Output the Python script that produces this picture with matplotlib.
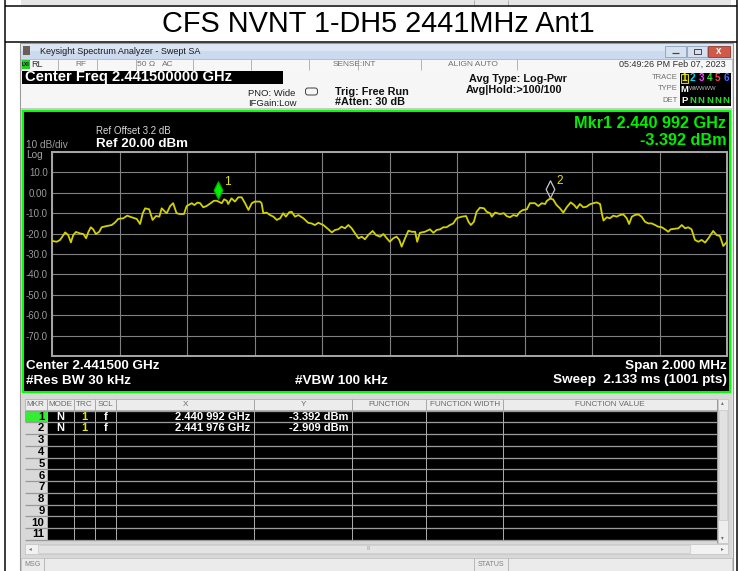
import numpy as np
import matplotlib
matplotlib.use("Agg")
import matplotlib.pyplot as plt
from matplotlib.patches import Rectangle
from matplotlib.path import Path
from matplotlib.markers import MarkerStyle
from matplotlib.transforms import ScaledTranslation

plt.rcParams['font.family'] = ['Liberation Sans', 'DejaVu Sans']

# ---------------- data ----------------
title = "CFS NVNT 1-DH5 2441MHz Ant1"
start_mhz = 2440.5
span_mhz = 2.0
offset_mhz = [0.000, 0.014, 0.024, 0.039, 0.048, 0.056, 0.063, 0.071, 0.083, 0.093,
              0.101, 0.108, 0.115, 0.122, 0.130, 0.140, 0.147, 0.162, 0.177, 0.187,
              0.196, 0.211, 0.223, 0.236, 0.251, 0.261, 0.269, 0.276, 0.288, 0.298,
              0.308, 0.318, 0.325, 0.335, 0.340, 0.350, 0.359, 0.369, 0.379, 0.391,
              0.399, 0.414, 0.422, 0.431, 0.439, 0.448, 0.458, 0.470, 0.480, 0.488,
              0.503, 0.510, 0.518, 0.522, 0.532, 0.542, 0.552, 0.562, 0.572, 0.582,
              0.592, 0.601, 0.616, 0.621, 0.626, 0.636, 0.646, 0.656, 0.666, 0.676,
              0.685, 0.693, 0.703, 0.710, 0.720, 0.730, 0.745, 0.759, 0.769, 0.779,
              0.789, 0.804, 0.819, 0.829, 0.839, 0.848, 0.858, 0.868, 0.878, 0.888,
              0.898, 0.908, 0.918, 0.927, 0.937, 0.950, 0.960, 0.972, 0.982, 0.992,
              1.001, 1.011, 1.021, 1.029, 1.036, 1.046, 1.056, 1.066, 1.076, 1.082,
              1.090, 1.105, 1.120, 1.130, 1.140, 1.150, 1.159, 1.169, 1.179, 1.189,
              1.199, 1.214, 1.227, 1.234, 1.241, 1.250, 1.258, 1.268, 1.280, 1.288,
              1.298, 1.303, 1.313, 1.327, 1.339, 1.347, 1.357, 1.367, 1.377, 1.387,
              1.396, 1.407, 1.416, 1.431, 1.441, 1.451, 1.461, 1.466, 1.476, 1.485,
              1.495, 1.505, 1.515, 1.525, 1.537, 1.547, 1.555, 1.564, 1.574, 1.584,
              1.594, 1.604, 1.614, 1.624, 1.629, 1.634, 1.644, 1.653, 1.663, 1.673,
              1.683, 1.693, 1.703, 1.710, 1.718, 1.727, 1.737, 1.747, 1.757, 1.767,
              1.777, 1.787, 1.796, 1.807, 1.816, 1.826, 1.833, 1.843, 1.856, 1.866,
              1.876, 1.885, 1.895, 1.905, 1.915, 1.925, 1.935, 1.945, 1.959, 1.969,
              1.979, 1.989, 2.000]
level_dbm = [-23.6, -24.0, -23.1, -19.4, -20.7, -24.3, -20.7, -19.2, -19.9, -20.2,
             -22.3, -19.1, -16.9, -17.9, -20.2, -19.1, -16.9, -16.3, -15.8, -14.5,
             -12.8, -12.5, -11.2, -12.0, -12.8, -15.3, -10.0, -7.6, -8.1, -13.3,
             -11.4, -11.7, -7.6, -9.3, -10.0, -6.5, -5.1, -10.0, -10.4, -10.4,
             -6.5, -5.1, -6.0, -4.8, -5.1, -7.1, -6.5, -5.1, -3.9, -3.9,
             -5.1, -3.2, -3.9, -5.5, -2.7, -4.3, -2.2, -2.2, -5.1, -8.4,
             -5.1, -4.3, -4.3, -5.1, -10.0, -9.7, -10.9, -11.7, -13.3, -12.5,
             -10.0, -11.7, -9.5, -9.3, -11.7, -10.9, -12.5, -14.7, -15.0, -15.8,
             -14.7, -15.8, -17.9, -19.4, -18.2, -17.9, -16.6, -17.4, -15.8, -17.4,
             -19.9, -22.3, -21.5, -22.8, -20.7, -18.7, -20.7, -21.5, -20.2, -22.3,
             -24.0, -22.3, -21.5, -23.1, -26.4, -22.3, -18.6, -19.1, -19.1, -24.0,
             -19.6, -19.1, -17.9, -19.6, -18.2, -17.9, -16.9, -16.9, -15.8, -15.0,
             -12.5, -11.7, -11.4, -14.2, -15.8, -14.2, -9.3, -7.3, -7.6, -9.3,
             -10.0, -11.7, -9.7, -10.4, -10.0, -11.4, -12.0, -10.9, -11.4, -9.3,
             -8.4, -8.1, -5.1, -5.1, -6.5, -5.1, -5.5, -4.0, -2.8, -3.3,
             -6.0, -7.6, -9.7, -7.1, -4.7, -6.0, -7.6, -5.5, -7.1, -6.8,
             -5.6, -5.1, -4.7, -5.5, -10.0, -13.6, -12.0, -12.5, -11.2, -11.7,
             -10.9, -10.6, -12.5, -15.3, -11.7, -10.9, -10.6, -11.7, -14.2, -15.0,
             -15.0, -15.8, -16.6, -16.9, -17.9, -19.1, -17.9, -17.7, -17.4, -15.8,
             -17.4, -16.9, -17.9, -23.1, -24.0, -23.1, -24.4, -22.3, -18.7, -20.7,
             -21.2, -26.1, -24.0]
mkr_ids = ["1", "2"]
mkr_freq_mhz = [2440.992, 2441.976]
mkr_level_dbm = [-3.392, -2.909]
mkr_x_text = ["2.440 992 GHz", "2.441 976 GHz"]
mkr_y_text = ["-3.392 dBm", "-2.909 dBm"]
y_ticks = [-80, -70, -60, -50, -40, -30, -20, -10, 0, 10, 20]
y_tick_labels = ["", "-70.0", "-60.0", "-50.0", "-40.0", "-30.0", "-20.0", "-10.0", "0.00", "10.0", ""]

# ---------------- figure ----------------
W, H = 738, 571
fig = plt.figure(figsize=(W / 100, H / 100), dpi=100)
fig.patch.set_facecolor('white')
bg = fig.add_axes([0, 0, 1, 1])
bg.set_xlim(0, W)
bg.set_ylim(H, 0)
bg.axis('off')

PX = 0.72  # 1 px in points


def rect(x0, y0, x1, y1, fc, ec='none', lw=0, z=1):
    bg.add_patch(Rectangle((x0, y0), x1 - x0, y1 - y0, facecolor=fc, edgecolor=ec,
                           linewidth=lw, zorder=z))


def hline(y, x0, x1, c, lw=1, z=2):
    bg.plot([x0, x1], [y, y], color=c, lw=lw * PX, zorder=z, solid_capstyle='butt')


def vline(x, y0, y1, c, lw=1, z=2):
    bg.plot([x, x], [y0, y1], color=c, lw=lw * PX, zorder=z, solid_capstyle='butt')


def txt(x, y, s, size, color='black', ha='left', weight='normal', z=6):
    bg.text(x, y, s, fontsize=size, color=color, ha=ha, va='center',
            fontweight=weight, zorder=z)


# outer document table
rect(21, 0, 731, 5, '#e6e6e6')
vline(474, 0, 5, '#b0b0b0')
vline(508, 0, 5, '#b0b0b0')
hline(6, 5, 737, 'black', 1.5, z=3)
hline(42, 5, 737, 'black', 1.5, z=3)
vline(5, 0, H, 'black', 1.5, z=3)
vline(736.5, 0, H, 'black', 1.5, z=3)
txt(378.5, 24.5, title, 20.8, 'black', ha='center')

# window frame
rect(20, 43, 733, 571, '#e9e9e9', ec='#9a9a9a', lw=0.8)
# title bar
rect(21, 43.5, 732, 51, '#dbe6f4')
rect(21, 51, 732, 58.5, '#cbdaee')
rect(23, 46, 30, 55, '#6a5f55')
txt(40, 51, "Keysight Spectrum Analyzer - Swept SA", 6.5, '#1a1a1a')
rect(665, 45.5, 686, 56.5, '#d6e1ef', ec='#8aa0bc', lw=0.6, z=3)
hline(53, 672, 679, '#444444', 1.2, z=4)
rect(687, 45.5, 707, 56.5, '#d6e1ef', ec='#8aa0bc', lw=0.6, z=3)
rect(694, 48.5, 701, 54, 'none', ec='#444444', lw=0.7, z=4)
rect(708, 45.5, 730, 56.5, '#cf5a4a', ec='#8a3a30', lw=0.6, z=3)
txt(719, 51, "x", 7, 'white', ha='center', weight='bold')

# status row
rect(21, 58.5, 732, 70.5, '#f7f7f7', ec='#b5b5b5', lw=0.6)
rect(22, 60, 29.5, 69, '#22cc22')
txt(25.7, 64.5, "LXI", 3.5, 'black', ha='center', weight='bold')
for xs in [57.7, 96.7, 136, 193, 251, 309, 358, 420.7, 516.7]:
    vline(xs, 59, 70, '#b5b5b5', 1)
txt(31, 64.5, "RL", 6.5, '#303030')
txt(75, 64.5, "RF", 6, '#707070')
txt(137, 64.5, "50 Ω", 6, '#707070')
txt(162, 64.5, "AC", 6, '#707070')
txt(333, 64.5, "SENSE:INT", 6, '#707070')
txt(448, 64.5, "ALIGN AUTO", 6, '#707070')
txt(726, 64.5, "05:49:26 PM Feb 07, 2023", 6.5, '#303030', ha='right')

# settings area
rect(21, 70.5, 732, 108, '#f6f6f6')
rect(22, 71, 283, 83.5, 'black', z=2)
txt(25, 77.2, "Center Freq 2.441500000 GHz", 10.6, 'white', weight='bold')
txt(248, 93.5, "PNO: Wide", 6.8, '#202020')
txt(248, 103, "IFGain:Low", 6.8, '#202020')
bg.add_patch(matplotlib.patches.FancyBboxPatch((306, 88.5), 11, 6, boxstyle="round,pad=0.5,rounding_size=2.5",
                                               facecolor='none', edgecolor='#404040', linewidth=0.7, zorder=3))
txt(335, 92, "Trig: Free Run", 7.8, '#101010', weight='bold')
txt(335, 102, "#Atten: 30 dB", 7.8, '#101010', weight='bold')
txt(518, 78.5, "Avg Type: Log-Pwr", 7.8, '#101010', ha='center', weight='bold')
txt(514, 90, "Avg|Hold:>100/100", 7.8, '#101010', ha='center', weight='bold')
txt(678, 77.5, "TRACE", 5.5, '#707070', ha='right')
txt(678, 89, "TYPE", 5.5, '#707070', ha='right')
txt(678, 100.5, "DET", 5.5, '#707070', ha='right')
rect(679.5, 73, 730.5, 106, 'black', z=2)
rect(680.5, 73.5, 688, 82.5, '#1a1a00', ec='#e0e000', lw=0.7, z=3)
trace_cols = ['#e8e800', '#00d8ff', '#ff44ff', '#33dd33', '#ff4444', '#4a6cff']
for i, c in enumerate(trace_cols):
    txt(684.3 + i * 8.4, 78, str(i + 1), 7.2, c, ha='center', weight='bold')
txt(684.3, 89, "M", 6.8, 'white', ha='center', weight='bold')
txt(689, 89, "WWWWW", 4.2, '#bbbbbb', ha='left')
txt(684.3, 100.5, "P", 6.8, 'white', ha='center', weight='bold')
for i in range(5):
    txt(692.7 + i * 8.4, 100.5, "N", 6.8, '#22dd22', ha='center', weight='bold')

# analyzer screen
rect(21, 108, 732, 396, '#c9c9c9')
rect(22.5, 111, 729.5, 391.5, 'black', ec='#00ff00', lw=2.0 * PX, z=2)

txt(96, 131, "Ref Offset 3.2 dB", 7, '#d8d8d8')
txt(96, 143.7, "Ref 20.00 dBm", 9.6, 'white', weight='bold')
txt(26, 145.5, "10 dB/div", 7.2, '#a0a0a0')
txt(26, 154.5, "Log", 7.2, '#a0a0a0')
txt(726.5, 124, "Mkr1 2.440 992 GHz", 11.7, '#00ee00', ha='right', weight='bold')
txt(726.5, 140.5, mkr_y_text[0], 11.7, '#00ee00', ha='right', weight='bold')
txt(26, 366, "Center 2.441500 GHz", 9.7, 'white', weight='bold')
txt(26, 380.5, "#Res BW 30 kHz", 9.7, 'white', weight='bold')
txt(295, 380.5, "#VBW 100 kHz", 9.7, 'white', weight='bold')
txt(726.5, 366, "Span 2.000 MHz", 9.7, 'white', ha='right', weight='bold')
txt(726.5, 380.5, "Sweep  2.133 ms (1001 pts)", 9.7, 'white', ha='right', weight='bold')

# plot axes (graticule)
ax = fig.add_axes([52 / W, 1 - 356 / H, 675 / W, 204 / H])
ax.set_facecolor('black')
freq = [start_mhz + o for o in offset_mhz]
ax.plot(freq, level_dbm, color='#d2d200', lw=1.3, zorder=4)
ax.set_xlim(start_mhz, start_mhz + span_mhz)
ax.set_ylim(-80, 20)
ax.set_xticks(np.linspace(start_mhz, start_mhz + span_mhz, 11))
ax.set_xticklabels([])
ax.set_yticks(y_ticks)
ax.set_yticklabels(y_tick_labels)
ax.tick_params(length=0, labelsize=7, labelcolor='#9a9a9a', pad=3)
ax.grid(True, color='#808080', lw=0.8)
ax.set_axisbelow(True)
for sp in ax.spines.values():
    sp.set_color('#a8a8a8')
    sp.set_linewidth(1.4)

diamond = MarkerStyle(Path([(0, 1), (0.5, 0), (0, -1), (-0.5, 0), (0, 1)],
                           [Path.MOVETO, Path.LINETO, Path.LINETO, Path.LINETO, Path.CLOSEPOLY]))
lift = ax.transData + ScaledTranslation(0, 0.095, fig.dpi_scale_trans)
mfcs = ['#00ee00', 'none']
mecs = ['#00b000', '#c8c8c8']
for k in range(2):
    ax.plot([mkr_freq_mhz[k]], [mkr_level_dbm[k]], marker=diamond, markersize=12.5,
            mfc=mfcs[k], mec=mecs[k], mew=0.9, transform=lift, zorder=6, clip_on=False)
    ax.annotate(mkr_ids[k], (mkr_freq_mhz[k], mkr_level_dbm[k]), xytext=(6, 15),
                textcoords='offset pixels', color='#e6e600', fontsize=8.5, zorder=7)

# marker table
rect(21, 392, 732, 558, '#d8d8d8')
rect(25, 399, 717, 409.5, '#ececec', ec='#b0b0b0', lw=0.6, z=2)
row_top = 410.5
pitch = 11.77
n_rows = 11
rect(25, row_top, 717, row_top + n_rows * pitch + 0.5, 'black', z=2)
rect(25, row_top, 46.7, row_top + n_rows * pitch + 0.5, '#d9d9d9', z=3)
rect(25, row_top, 46.7, row_top + pitch, '#33ee33', z=3)
for k in range(n_rows + 1):
    hline(row_top + k * pitch, 25, 717, '#9a9a9a', 1.3, z=4)
col_x = [46.7, 74, 95, 116, 254.3, 352.3, 426.3, 503.3]
for cx in col_x:
    vline(cx, 399, row_top + n_rows * pitch, '#a8a8a8', 1, z=4)
vline(717, 399, 543, '#9a9a9a', 1, z=4)
headers = [("MKR", 35.8), ("MODE", 60.3), ("TRC", 84.5), ("SCL", 105.5), ("X", 185.2),
           ("Y", 303.3), ("FUNCTION", 389.3), ("FUNCTION WIDTH", 464.8), ("FUNCTION VALUE", 610.3)]
for s, hx in headers:
    txt(hx, 404.3, s, 5.9, '#6a6a6a', ha='center')
for k in range(n_rows):
    txt(44.5, row_top + (k + 0.5) * pitch + 0.3, str(k + 1), 8.2, 'black', ha='right', weight='bold', z=6)
for k in range(2):
    yy = row_top + (k + 0.5) * pitch + 0.3
    txt(60.3, yy, "N", 8, 'white', ha='center', weight='bold')
    txt(84.5, yy, "1", 8, '#e8e800', ha='center', weight='bold')
    txt(105.5, yy, "f", 8, 'white', ha='center', weight='bold')
    txt(250, yy, mkr_x_text[k], 8, 'white', ha='right', weight='bold')
    txt(348.5, yy, mkr_y_text[k], 8, 'white', ha='right', weight='bold')
# vertical scrollbar
rect(717.5, 399, 727.5, 543, '#eeeeee', ec='#c0c0c0', lw=0.5, z=3)
rect(718.5, 410, 726.5, 520, '#e2e2e2', ec='#c8c8c8', lw=0.5, z=4)
txt(722.5, 403, "\u25b4", 4, '#707070', ha='center')
txt(722.5, 538, "\u25be", 4, '#707070', ha='center')
# horizontal scrollbar
rect(25, 543.5, 727.5, 553.5, '#f2f2f2', ec='#c0c0c0', lw=0.5, z=3)
rect(38, 544.5, 690, 552.5, '#e4e4e4', ec='#c8c8c8', lw=0.5, z=4)
txt(30, 548.5, "\u25c2", 4, '#707070', ha='center')
txt(722, 548.5, "\u25b8", 4, '#707070', ha='center')
txt(369, 548.5, "III", 3.5, '#a0a0a0', ha='center')
# message bar
rect(21, 557.5, 732, 571, '#ebebeb', ec='#b8b8b8', lw=0.5, z=3)
vline(44, 558, 571, '#b8b8b8', 1, z=4)
vline(474, 558, 571, '#b8b8b8', 1, z=4)
vline(508, 558, 571, '#b8b8b8', 1, z=4)
txt(24, 565, "MSG", 5, '#808080')
txt(491, 565, "STATUS", 5, '#808080', ha='center')

fig.savefig("out.png", dpi=100, facecolor='white')
